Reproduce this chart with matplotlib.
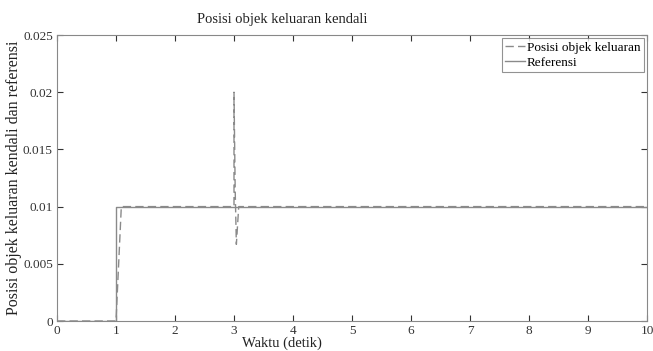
import numpy as np
import matplotlib.pyplot as plt

plt.rcParams['font.family'] = ['Liberation Serif', 'DejaVu Serif']

# referensi (step at t=1)
t_ref = [0, 1, 1, 10]
y_ref = [0, 0, 0.01, 0.01]

# posisi objek keluaran
t_out = [0, 1.0, 1.09, 3.0, 3.0, 3.02, 3.04, 3.08, 10]
y_out = [0, 0, 0.01, 0.01, 0.02, 0.0115, 0.0067, 0.01, 0.01]

xticks = np.arange(0, 11, 1)
yticks = [0, 0.005, 0.01, 0.015, 0.02, 0.025]
yticklabels = ['0', '0.005', '0.01', '0.015', '0.02', '0.025']

fig = plt.figure(figsize=(6.53, 3.51), dpi=100)
ax = fig.add_axes([57 / 653, 30 / 351, 590 / 653, 286 / 351])

ax.plot(t_out, y_out, color='#8a8a8a', ls=(0, (6, 3)), lw=1.0, label='Posisi objek keluaran')
ax.plot(t_ref, y_ref, color='#8a8a8a', ls='-', lw=1.0, label='Referensi')

ax.set_xlim(0, 10)
ax.set_ylim(0, 0.025)
ax.set_xticks(xticks)
ax.set_yticks(yticks)
ax.set_yticklabels(yticklabels)
ax.tick_params(direction='in', top=True, right=True, labelsize=9.5, colors='#333333', length=4)
ax.tick_params(axis='x', pad=3)
ax.tick_params(axis='y', pad=3)
for s in ax.spines.values():
    s.set_color('#888888')

# title and x label sit left of the axes centre in the original
fig.text(282 / 653, 1 - 20 / 351, 'Posisi objek keluaran kendali', fontsize=10.5,
         color='#222222', ha='center', va='center')
fig.text(282 / 653, 1 - 343 / 351, 'Waktu (detik)', fontsize=10.5,
         color='#222222', ha='center', va='center')
ax.set_ylabel('Posisi objek keluaran kendali dan referensi', fontsize=11.5, color='#222222', labelpad=1)

leg = ax.legend(loc='upper right', fontsize=9.5, frameon=True, fancybox=False,
                handlelength=1.5, handletextpad=0.15, borderpad=0.25, labelspacing=0.2,
                borderaxespad=0.25)
leg.get_frame().set_edgecolor('#777777')
leg.get_frame().set_linewidth(0.8)

fig.savefig('out.png', dpi=100)
